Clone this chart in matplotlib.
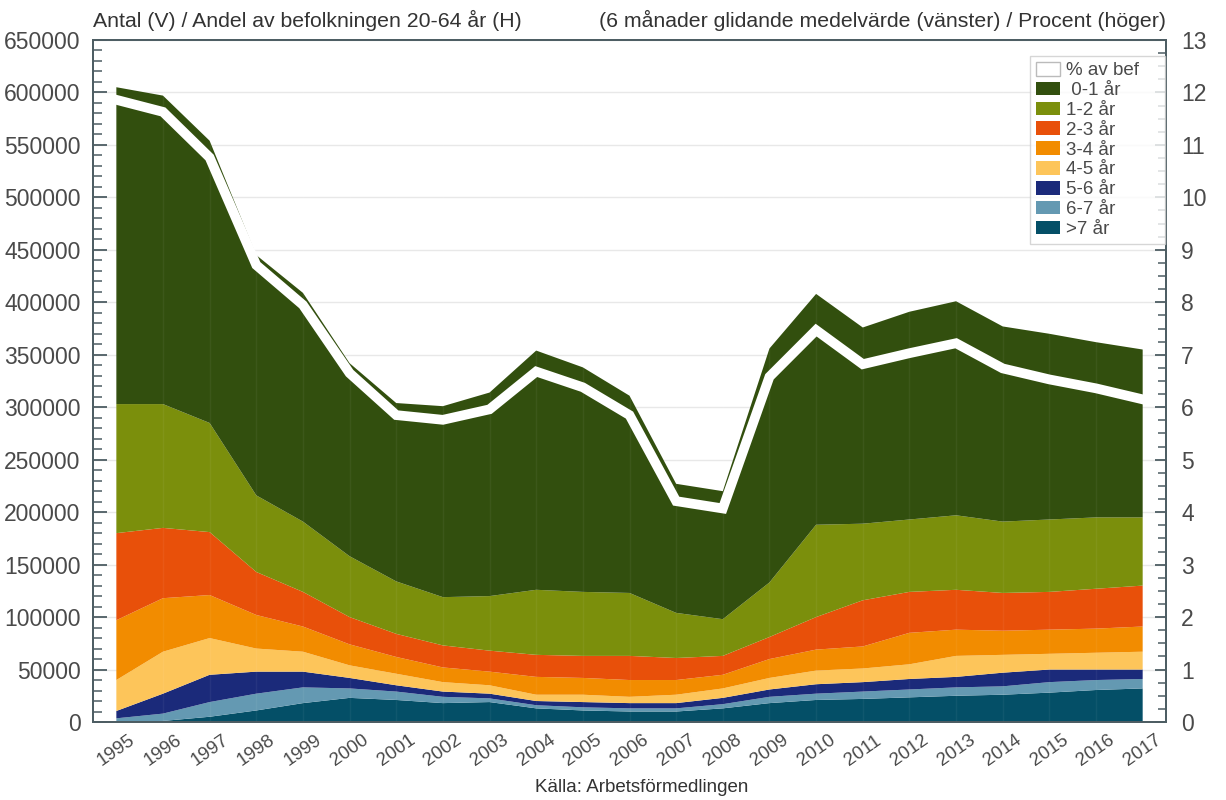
import matplotlib
matplotlib.use("Agg")
import matplotlib.pyplot as plt
from matplotlib.ticker import MultipleLocator, FixedLocator, FuncFormatter
from matplotlib.patches import Patch

plt.rcParams['font.family'] = ['Liberation Sans', 'DejaVu Sans']

years = list(range(1995, 2018))

labels = [" 0-1 år", "1-2 år", "2-3 år", "3-4 år", "4-5 år", "5-6 år", "6-7 år", ">7 år"]
colors = ["#324f0e", "#7b8f0c", "#e8500a", "#f28c00", "#fdc55a", "#1b2a7a", "#6499b2", "#044f67"]

d_0_1 = [302000, 294000, 269000, 229000, 218000, 184000, 170000, 182000, 194000, 228000, 214000, 188000,
         123000, 122000, 223000, 220000, 187000, 198000, 204000, 186000, 177000, 167000, 160000]
d_1_2 = [123000, 118000, 104000, 73000, 67000, 58000, 50000, 46000, 52000, 62000, 61000, 60000,
         43000, 35000, 52000, 88000, 73000, 69000, 71000, 68000, 69000, 68000, 65000]
d_2_3 = [83000, 67000, 60000, 41000, 33000, 26000, 22000, 21000, 20000, 21000, 21000, 23000,
         21000, 18000, 21000, 31000, 44000, 39000, 38000, 36000, 36000, 38000, 39000]
d_3_4 = [57000, 51000, 41000, 32000, 24000, 20000, 16000, 14000, 13000, 17000, 16000, 16000,
         14000, 13000, 18000, 20000, 21000, 30000, 25000, 23000, 23000, 23000, 24000]
d_4_5 = [29500, 40000, 35000, 22000, 19000, 12000, 11000, 9000, 8000, 6000, 7000, 6000,
         8000, 9000, 11000, 13000, 13000, 14000, 20000, 17000, 15000, 16000, 17000]
d_5_6 = [7000, 19000, 26000, 21000, 15000, 10000, 6000, 5000, 4500, 4000, 5000, 5000,
         5000, 6000, 7000, 9000, 9000, 10000, 10000, 13000, 12000, 10000, 9000]
d_6_7 = [3000, 7000, 14000, 16000, 15000, 9000, 8000, 6000, 3500, 3000, 3000, 3000,
         3000, 4000, 6000, 6000, 7000, 7500, 8000, 8000, 10000, 9500, 9000]
d_7p = [500, 1000, 5000, 11000, 18000, 23000, 21000, 18000, 19000, 13000, 11000, 10000,
        10000, 13000, 18000, 21000, 22000, 23500, 25000, 26000, 28000, 30500, 32000]

pct_av_bef = [11.86, 11.63, 10.76, 8.71, 7.95, 6.65, 5.85, 5.76, 5.96, 6.68, 6.38, 5.85,
              4.21, 4.07, 6.58, 7.47, 6.82, 7.03, 7.22, 6.74, 6.53, 6.36, 6.15]

series = [d_0_1, d_1_2, d_2_3, d_3_4, d_4_5, d_5_6, d_6_7, d_7p]

W, H = 1226, 800
fig = plt.figure(figsize=(W / 100, H / 100), dpi=100)
ax = fig.add_axes([93 / W, (H - 722) / H, (1166 - 93) / W, (722 - 40) / H])

spine_c = "#4d5d63"
txt_c = "#4a4a4a"

# stack from bottom (>7 år) to top (0-1 år)
ax.stackplot(years, series[::-1], colors=colors[::-1], linewidth=0, zorder=2)

ax.set_xlim(1994.5, 2017.5)
ax.set_ylim(0, 650000)
ax.yaxis.set_major_locator(MultipleLocator(50000))
ax.yaxis.set_minor_locator(MultipleLocator(10000))
ax.grid(axis='y', which='major', color='#e8e8e8', lw=1, zorder=0)
ax.set_axisbelow(True)
for yv in years:
    ax.axvline(yv, color='#ffffff', alpha=0.05, lw=1, zorder=3)

ax.xaxis.set_major_locator(FixedLocator(years))
ax.set_xticklabels([str(y) for y in years], rotation=35, ha='center', va='top',
                   fontsize=13.5, color=txt_c)
ax.tick_params(axis='x', length=0, pad=7)
ax.tick_params(axis='y', which='major', direction='in', length=10, width=1.3,
               color=spine_c, labelsize=16.5, labelcolor=txt_c, pad=9)
ax.tick_params(axis='y', which='minor', direction='in', length=6.5, width=1.1, color=spine_c)
ax.yaxis.set_major_formatter(FuncFormatter(lambda v, p: f"{int(v)}"))
for s in ax.spines.values():
    s.set_color(spine_c)
    s.set_linewidth(1.3)

ax2 = ax.twinx()
ax2.plot(years, pct_av_bef, color='white', lw=7, solid_joinstyle='miter', zorder=5)
ax2.set_ylim(0, 13)
ax2.yaxis.set_major_locator(MultipleLocator(1))
ax2.yaxis.set_minor_locator(MultipleLocator(0.25))
ax2.tick_params(axis='y', which='major', direction='in', length=8, width=1.3,
                color=spine_c, labelsize=16.5, labelcolor=txt_c, pad=11)
ax2.tick_params(axis='y', which='minor', direction='in', length=6, width=1.1, color=spine_c)
for s in ax2.spines.values():
    s.set_color(spine_c)
    s.set_linewidth(1.3)

handles = [Patch(facecolor='white', edgecolor='#bbbbbb', label='% av bef')]
handles += [Patch(facecolor=c, edgecolor='none', label=l) for c, l in zip(colors, labels)]
leg = fig.legend(handles=handles, loc='upper left',
                 bbox_to_anchor=(1030 / W, 1 - 57 / H, 135 / W, 0.001), mode='expand',
                 fontsize=13.5, frameon=True, fancybox=False, edgecolor='#cccccc',
                 handlelength=1.3, handleheight=0.75, handletextpad=0.3, labelspacing=0.13,
                 borderpad=0.3, borderaxespad=0)
leg.get_frame().set_linewidth(1)
for t in leg.get_texts():
    t.set_color(txt_c)

fig.text(93 / W, 1 - 20 / H, "Antal (V) / Andel av befolkningen 20-64 år (H)",
         ha='left', va='center', fontsize=15.3, color='#333333')
fig.text(1166 / W, 1 - 20 / H, "(6 månader glidande medelvärde (vänster) / Procent (höger)",
         ha='right', va='center', fontsize=15.3, color='#333333')
fig.text(642 / W, 1 - 788 / H, "Källa: Arbetsförmedlingen", ha='center', va='center',
         fontsize=13.5, color='#333333')

fig.savefig("out.png", dpi=100)
